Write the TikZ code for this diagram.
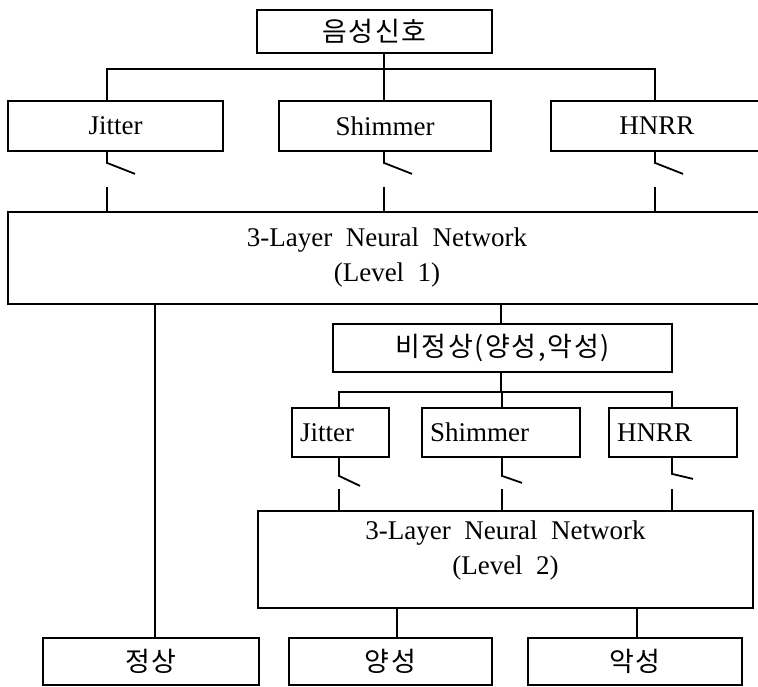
\documentclass[tikz,border=0pt]{standalone}
\usepackage{fontspec}
\setmainfont{Liberation Serif}
\newfontfamily\kor[LetterSpace=6]{Noto Sans CJK KR}
\tikzset{
    every node/.append style={
        font=\fontsize{27}{35}\selectfont
    },
    wire/.style={
        line width=1.8pt
    },
    box/.style={
        draw,
        line width=1.8pt,
        inner sep=0pt
    },
    feat/.style={
        box,
        minimum height=49pt,
        inner xsep=8pt,
        align=left
    },
    net/.style={
        box,
        align=center
    }
}

\begin{document}
\begin{tikzpicture}[x=1pt, y=-1pt]
    \clip (0,0) rectangle (758,687);
    % input signal
    \node[box, minimum width=235pt, minimum height=43pt] (sig) at (374.5,31.5) {\kor 음성신호};
    \coordinate (bus1) at (384,69);
    \coordinate (t1) at (107,0);
    \coordinate (t2) at (384,0);
    \coordinate (t3) at (655,0);

    % level 1 features
    \node[box, minimum width=215pt, minimum height=50pt] (jit1) at (115.5,126) {Jitter};
    \node[box, minimum width=212pt, minimum height=50pt] (shim1) at (385,126) {Shimmer};
    \node[box, minimum width=212pt, minimum height=50pt] (hnrr1) at (657,126) {HNRR};
    \node[net, minimum width=758pt, minimum height=92pt] (l1) at (387,258)
        {3-Layer\ \ Neural\ \ Network\\(Level\ \ 1)};

    \draw[wire] (sig.south -| bus1) -- (bus1);
    \draw[wire] (jit1.north -| t1) -- (bus1 -| t1) -- (bus1 -| t3) -- (hnrr1.north -| t3);
    \draw[wire] (bus1) -- (shim1.north -| t2);
    \draw[wire] (jit1.south -| t1) -- ++(0,11) -- ++(28,11);
    \draw[wire] (shim1.south -| t2) -- ++(0,11) -- ++(28,11);
    \draw[wire] (hnrr1.south -| t3) -- ++(0,11) -- ++(28,11);
    \draw[wire] (l1.north -| t1) -- ++(0,-24);
    \draw[wire] (l1.north -| t2) -- ++(0,-24);
    \draw[wire] (l1.north -| t3) -- ++(0,-24);

    % abnormal branch
    \node[box, minimum width=339pt, minimum height=48pt] (abn) at (502.5,348) {\kor 비정상(양성,악성)};
    \coordinate (bus2) at (501,392);
    \coordinate (u1) at (339,0);
    \coordinate (u2) at (502,0);
    \coordinate (u3) at (672,0);
    \draw[wire] (l1.south -| bus2) -- (abn.north -| bus2);
    \draw[wire] (abn.south -| bus2) -- (bus2);

    % level 2 features
    \node[feat, text width=81pt] (jit2) at (340.5,432.5) {Jitter};
    \node[feat, text width=142pt] (shim2) at (501,432.5) {Shimmer};
    \node[feat, text width=112pt] (hnrr2) at (673,432.5) {HNRR};
    \node[net, minimum width=495pt, minimum height=97pt, text depth=23pt] (l2) at (505.5,559.5)
        {3-Layer\ \ Neural\ \ Network\\(Level\ \ 2)};

    \draw[wire] (jit2.north -| u1) -- (bus2 -| u1) -- (bus2 -| u3) -- (hnrr2.north -| u3);
    \draw[wire] (bus2 -| u2) -- (shim2.north -| u2);
    \draw[wire] (jit2.south -| u1) -- ++(0,18) -- ++(21,10);
    \draw[wire] (shim2.south -| u2) -- ++(0,18) -- ++(20,7);
    \draw[wire] (hnrr2.south -| u3) -- ++(0,16) -- ++(21,5);
    \draw[wire] (l2.north -| u1) -- ++(0,-21);
    \draw[wire] (l2.north -| u2) -- ++(0,-21);
    \draw[wire] (l2.north -| u3) -- ++(0,-21);

    % results
    \node[box, minimum width=216pt, minimum height=47pt] (nor) at (151,661.5) {\kor 정상};
    \node[box, minimum width=203pt, minimum height=47pt] (pos) at (390.5,661.5) {\kor 양성};
    \node[box, minimum width=214pt, minimum height=47pt] (mal) at (635,661.5) {\kor 악성};
    \coordinate (v1) at (155,0);
    \coordinate (v2) at (397,0);
    \coordinate (v3) at (637,0);
    \draw[wire] (l1.south -| v1) -- (nor.north -| v1);
    \draw[wire] (l2.south -| v2) -- (pos.north -| v2);
    \draw[wire] (l2.south -| v3) -- (mal.north -| v3);
\end{tikzpicture}
\end{document}
